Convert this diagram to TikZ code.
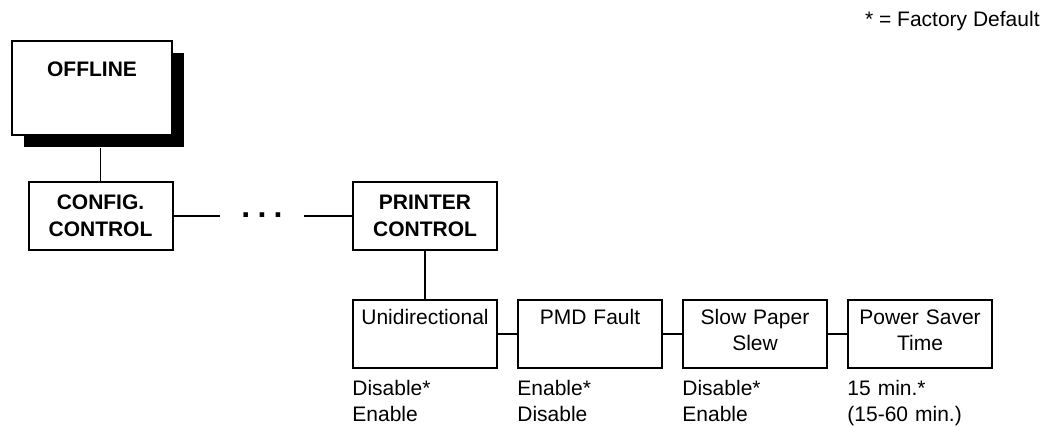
\documentclass[tikz,border=0pt]{standalone}
\usepackage{fontspec}
\setmainfont{Liberation Sans}
\usetikzlibrary{positioning,shadows}
\tikzstyle{offlineNode}=[rectangle, draw, fill=white, line width=1pt, text width=80pt,
  inner sep=0pt, text height=18pt, text depth=29pt, align=center,
  font=\fontsize{10.5}{13}\selectfont\bfseries,
  drop shadow={shadow xshift=6pt, shadow yshift=-6pt, fill=black, opacity=1}]
\tikzstyle{menuNode}=[rectangle, draw, line width=1pt, text width=72pt, inner sep=0pt,
  minimum height=34pt, align=center, font=\fontsize{10.5}{13.5}\selectfont\bfseries]
\tikzstyle{itemNode}=[rectangle, draw, line width=1pt, text width=72pt, inner sep=0pt,
  text height=12.25pt, text depth=21.75pt, align=center, font=\fontsize{10.5}{13}\selectfont]
\tikzstyle{valueNode}=[anchor=base west, inner sep=0pt, text width=72pt, align=left,
  font=\fontsize{10.5}{13}\selectfont]
\tikzstyle{dotsNode}=[inner sep=0pt, minimum width=42pt, text height=1.2pt, text depth=0pt,
  font=\fontsize{16}{16}\selectfont\bfseries]
\tikzstyle{link}=[line width=0.85pt]

\begin{document}
\begin{tikzpicture}[x=0.5pt, y=-0.5pt, node distance=9.5pt]
\useasboundingbox (0,0) rectangle (1058,427);
\node[anchor=base east, inner sep=0pt, font=\fontsize{10.5}{13}\selectfont] (legend)
  at (1040,27) {* = Factory Default};
\node[offlineNode] (offline) at (92,88) {OFFLINE};
\node[menuNode] (config) at (100.5,216) {CONFIG.\\CONTROL};
\node[menuNode] (printer) at (425,216) {PRINTER\\CONTROL};
\node[dotsNode] (dots) at (262,216) {.\hspace{3.6pt}.\hspace{3.6pt}.};
\node[itemNode, below=24pt of printer] (unidir) {Unidirectional};
\node[itemNode, right=of unidir] (pmd) {PMD Fault};
\node[itemNode, right=of pmd] (slew) {Slow Paper\\Slew};
\node[itemNode, right=of slew] (saver) {Power Saver\\Time};
% settings below each item
\node[valueNode] (vunidir) at ([yshift=-13pt]unidir.south west) {Disable*\\Enable};
\node[valueNode] (vpmd) at ([yshift=-13pt]pmd.south west) {Enable*\\Disable};
\node[valueNode] (vslew) at ([yshift=-13pt]slew.south west) {Disable*\\Enable};
\node[valueNode] (vsaver) at ([yshift=-13pt]saver.south west) {15 min.*\\(15-60 min.)};
\coordinate (offshadow) at ([yshift=-6pt]offline.south);
\draw[link] (config.north) -- (config.north |- offshadow);
\draw[link] (config.east) -- (dots.west);
\draw[link] (dots.east) -- (printer.west);
\draw[link] (printer.south) -- (unidir.north);
\draw[link] (unidir.east) -- (pmd.west);
\draw[link] (pmd.east) -- (slew.west);
\draw[link] (slew.east) -- (saver.west);
\end{tikzpicture}
\end{document}
